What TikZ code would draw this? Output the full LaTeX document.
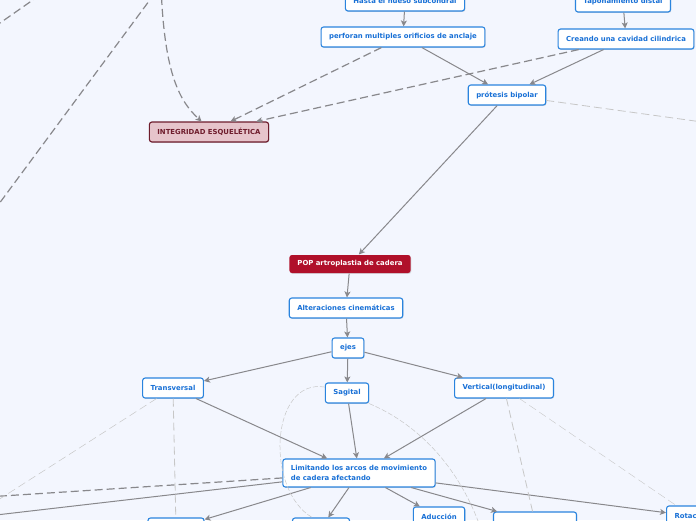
\documentclass[tikz,border=0pt]{standalone}
\usepackage{fontspec}
\setmainfont{DejaVu Sans}
\usetikzlibrary{arrows.meta,shadows}
\definecolor{bgcol}{RGB}{243,246,254}
\definecolor{topicblue}{RGB}{42,132,222}
\definecolor{textblue}{RGB}{24,112,214}
\definecolor{linkgray}{RGB}{136,136,140}
\definecolor{pinkfill}{RGB}{230,196,203}
\definecolor{maroon}{RGB}{110,28,44}
\definecolor{crimson}{RGB}{176,16,42}
\begin{document}
\begin{tikzpicture}[x=1pt, y=-1pt,
  every node/.style={font=\fontsize{6.9}{9.5}\selectfont\bfseries},
  topic/.style={draw=topicblue, line width=1.1pt, fill=white, text=textblue,
    rounded corners=2.5pt, minimum height=20pt, inner xsep=8pt,
    drop shadow={shadow xshift=0.7pt, shadow yshift=-0.9pt, opacity=0.25}},
  tip/.style={-{Stealth[length=6pt,width=6pt,inset=1.5pt]}},
  link/.style={draw=linkgray, line width=1pt, tip},
  rel/.style={draw=linkgray, line width=1.2pt, dash pattern=on 8pt off 4pt},
  faint/.style={draw=black!22, line width=0.5pt, dash pattern=on 8pt off 4pt}]
  \useasboundingbox (0,0) rectangle (696,520);
  \fill[bgcol] (0,0) rectangle (696,520);

  \node[topic] (hasta) at (405,1) {Hasta el hueso subcondral};
  \node[topic] (perf) at (403,37) {perforan multiples orificios de anclaje};
  \node[topic] (tapon) at (623,2) {Taponamiento distal};
  \node[topic] (cav) at (626,39) {Creando una cavidad cilindrica};
  \node[topic] (bip) at (507,95) {prótesis bipolar};
  \node[topic, draw=maroon, fill=pinkfill, text=maroon] (integ) at (209,132) {INTEGRIDAD ESQUELÉTICA};
  \node[topic, draw=none, fill=crimson, text=white, minimum height=18pt] (pop) at (350,264) {POP artroplastia de cadera};
  \node[topic] (alt) at (346,308) {Alteraciones cinemáticas};
  \node[topic] (ejes) at (348,348) {ejes};
  \node[topic] (trans) at (173,388) {Transversal};
  \node[topic] (sag) at (347,393) {Sagital};
  \node[topic] (vert) at (504,388) {Vertical(longitudinal)};
  \node[topic, align=left, minimum height=28pt] (lim) at (359,473) {Limitando los arcos de movimiento\\de cadera afectando};
  \node[topic, minimum width=40pt] (m0) at (-30,518) {};
  \node[topic, minimum width=56pt] (m1) at (176,528) {};
  \node[topic, minimum width=57pt] (m2) at (321,528) {};
  \node[topic] (adu) at (439,517) {Aducción};
  \node[topic, minimum width=83pt] (m4) at (535,522) {};
  \node[topic, anchor=west] (rot) at (666,516) {Rotación};

  \coordinate (upA) at (161,-15);
  \coordinate (offT1) at (155,-7);
  \coordinate (offB1) at (-10,216);
  \coordinate (offT2) at (40,-5);
  \coordinate (offB2) at (-10,30);
  \coordinate (offR) at (760,130);
  \coordinate (offL) at (-60,500);
  \coordinate (sagEnd) at (483,535);

  \draw[link] (hasta) -- (perf);
  \draw[link] (tapon) -- (cav);
  \draw[link] (perf) -- (bip);
  \draw[link] (cav) -- (bip);
  \draw[link] (bip) -- (pop);
  \draw[link] (pop) -- (alt);
  \draw[link] (alt) -- (ejes);
  \draw[link] (ejes) -- (trans);
  \draw[link] (ejes) -- (sag);
  \draw[link] (ejes) -- (vert);
  \draw[link] (trans) -- (lim);
  \draw[link] (sag) -- (lim);
  \draw[link] (vert) -- (lim);
  \draw[link] (lim) -- (m0);
  \draw[link] (lim) -- (m1);
  \draw[link] (lim) -- (m2);
  \draw[link] (lim) -- (adu);
  \draw[link] (lim) -- (m4);
  \draw[link] (lim) -- (rot);

  \draw[rel, tip] (upA) .. controls (164,70) and (178,100) .. (integ.125);
  \draw[rel, tip] (perf) -- (integ);
  \draw[rel, tip] (cav) -- (integ);
  \draw[rel] (offT1) -- (offB1);
  \draw[rel] (offT2) -- (offB2);
  \draw[rel] (lim) -- (offL);

  \draw[faint, line width=0.8pt] (bip) -- (offR);
  \draw[faint] (trans) -- (m0);
  \draw[faint, line width=0.8pt] (trans) -- (m1);
  \draw[faint, line width=0.8pt] (vert) -- (m4);
  \draw[faint, line width=0.4pt] (vert) -- (rot);
  \draw[faint, dash pattern=on 5pt off 2pt] (sag.165) .. controls (270,378) and (265,490) .. (m2.130);
  \draw[faint, dash pattern=on 5pt off 2pt] (sag.south east) .. controls (420,425) and (462,470) .. (sagEnd);
\end{tikzpicture}
\end{document}
